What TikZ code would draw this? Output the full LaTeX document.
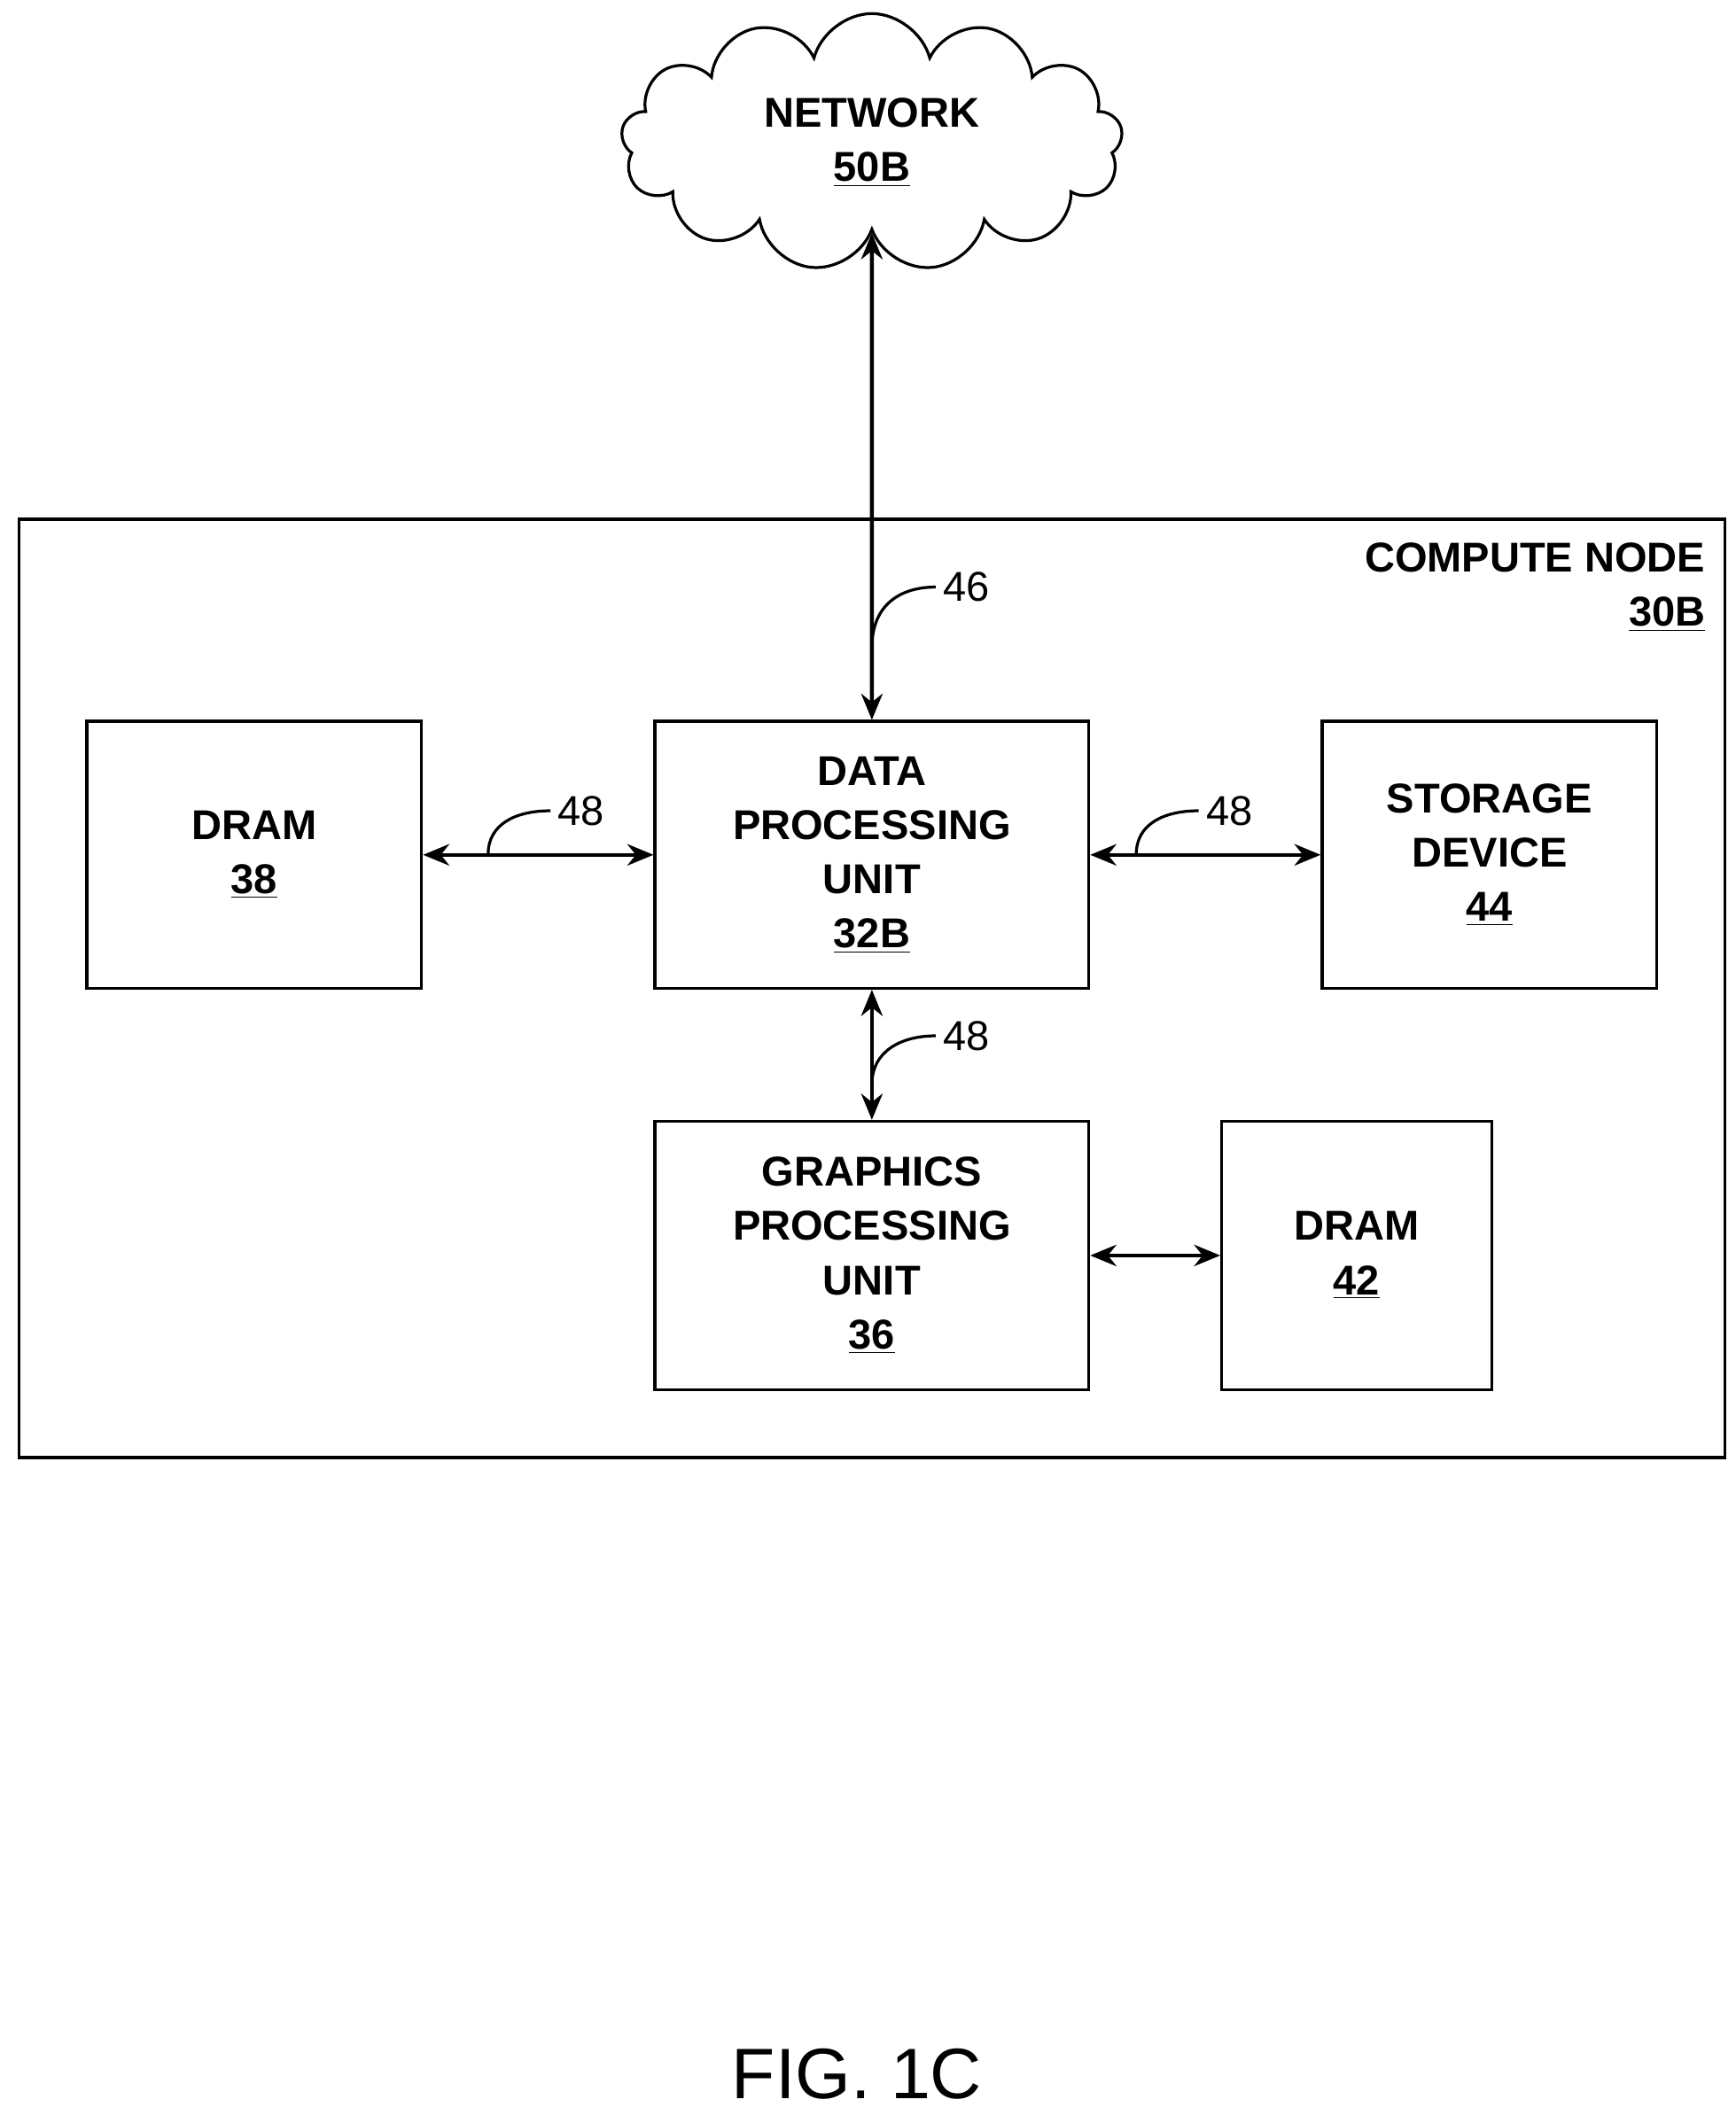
\documentclass[tikz,border=0pt]{standalone}
\usepackage{fontspec}
\setmainfont{Liberation Sans}
\usetikzlibrary{arrows.meta, shapes.symbols}

\tikzset{
  unit/.style={draw, line width=1.2pt, align=center, inner sep=0,
    minimum height=3.94cm, font=\bfseries\fontsize{17.5}{22.8}\selectfont},
  link/.style={line width=1.6pt, {Stealth[length=11pt,width=9pt]}-{Stealth[length=11pt,width=9pt]}},
  lead/.style={line width=1.2pt},
  num/.style={font=\fontsize{17.5}{20}\selectfont, anchor=west, inner sep=3pt},
}

\begin{document}
\begin{tikzpicture}[x=0.02cm, y=-0.02cm]
        \useasboundingbox (0,0) rectangle (1280,1560);

        % Cloud and outer frame
        \node [cloud, draw, line width=1.2pt, cloud puffs=13, aspect=2,
          minimum width=7.4cm, minimum height=3.8cm, align=center,
          font=\bfseries\fontsize{17.5}{22.8}\selectfont] (net) at (643,105)
          {NETWORK\\\underline{50B}};
        \draw [line width=1.2pt] (14,383) rectangle (1272,1075);
        \node [anchor=north east, align=right, inner sep=0,
          font=\bfseries\fontsize{17.5}{22.8}\selectfont] (cnode) at (1258,400)
          {COMPUTE NODE\\\underline{30B}};

        % Units
        \node [unit, minimum width=4.94cm] (dram38) at (187.5,630.5) {DRAM\\\underline{38}};
        \node [unit, minimum width=6.4cm] (dpu) at (643,630.5) {DATA\\PROCESSING\\UNIT\\\underline{32B}};
        \node [unit, minimum width=4.94cm] (stor) at (1098.5,630.5) {STORAGE\\DEVICE\\\underline{44}};
        \node [unit, minimum width=6.4cm, minimum height=3.96cm] (gpu) at (643,926) {GRAPHICS\\PROCESSING\\UNIT\\\underline{36}};
        \node [unit, minimum width=3.98cm, minimum height=3.96cm] (dram42) at (1000.5,926) {DRAM\\\underline{42}};

        % Connections
        \draw [link] (net.south) -- (dpu.north);
        \draw [link] (dram38) -- (dpu);
        \draw [link] (dpu) -- (stor);
        \draw [link] (dpu) -- (gpu);
        \draw [link] (gpu) -- (dram42);

        % Reference numerals
        \node [num] (n46) at (690,433) {46};
        \node [num] (n48a) at (406,598) {48};
        \node [num] (n48b) at (884,598) {48};
        \node [num] (n48c) at (690,764) {48};
        \draw [lead] (643,478) .. controls (643,445) and (665,433) .. (n46.west);
        \draw [lead] (360,630) .. controls (360,608) and (380,598) .. (n48a.west);
        \draw [lead] (838,630) .. controls (838,608) and (858,598) .. (n48b.west);
        \draw [lead] (643,800) .. controls (643,775) and (665,764) .. (n48c.west);

        \node [font=\fontsize{30}{36}\selectfont] (fig) at (632,1530) {FIG. 1C};
\end{tikzpicture}
\end{document}
